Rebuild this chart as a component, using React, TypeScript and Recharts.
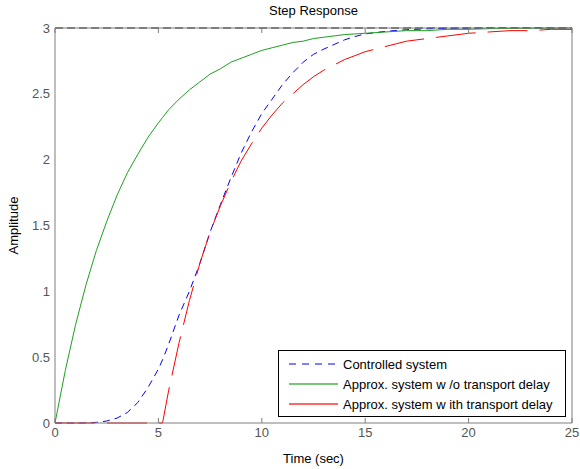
import React from "react";
import {
  LineChart,
  Line,
  XAxis,
  YAxis,
  ReferenceLine,
  Legend,
} from "recharts";

const times = [
  0, 0.5, 1, 1.5, 2, 2.5, 3, 3.5, 4, 4.5, 5, 5.2, 5.5, 6, 6.5, 7, 7.5, 8, 8.5,
  9, 9.5, 10, 10.5, 11, 11.5, 12, 12.5, 13, 13.5, 14, 14.5, 15, 16, 17, 18, 19,
  20, 21, 22, 23, 24, 25,
];

const controlled = [
  0, 0, 0, 0.001, 0.005, 0.015, 0.037, 0.08, 0.155, 0.27, 0.41, 0.48, 0.6,
  0.82, 1.0, 1.21, 1.45, 1.66, 1.86, 2.05, 2.21, 2.35, 2.46, 2.57, 2.66, 2.74,
  2.8, 2.84, 2.875, 2.91, 2.935, 2.955, 2.975, 2.987, 2.994, 2.997, 2.999, 3, 3,
  3, 3, 3,
];

const approxNoDelay = [
  0, 0.4, 0.75, 1.05, 1.31, 1.53, 1.73, 1.9, 2.04, 2.17, 2.28, 2.32, 2.38, 2.46,
  2.53, 2.59, 2.65, 2.69, 2.74, 2.77, 2.8, 2.83, 2.85, 2.87, 2.89, 2.9, 2.92,
  2.93, 2.94, 2.95, 2.955, 2.96, 2.97, 2.98, 2.98, 2.99, 2.99, 2.995, 2.997,
  2.998, 2.999, 3,
];

const approxDelay = [
  0, 0, 0, 0, 0, 0, 0, 0, 0, 0, 0, 0, 0.25, 0.61, 0.93, 1.21, 1.45, 1.65, 1.83,
  1.99, 2.12, 2.24, 2.34, 2.43, 2.5, 2.57, 2.63, 2.68, 2.72, 2.76, 2.79, 2.82,
  2.86, 2.9, 2.92, 2.94, 2.96, 2.97, 2.98, 2.98, 2.99, 2.99,
];

const xTicks = [0, 5, 10, 15, 20, 25];
const yTicks = [0, 0.5, 1, 1.5, 2, 2.5, 3];

const series = [
  { key: "controlled", name: "Controlled system", color: "#0000ff", dash: "7 5", legendDash: "7 6" },
  { key: "noDelay", name: "Approx. system w /o transport delay", color: "#1fa01f", dash: undefined, legendDash: undefined },
  { key: "delay", name: "Approx. system w ith transport delay", color: "#ff0000", dash: "40 12", legendDash: undefined },
];

const data = times.map((t, i) => ({
  t,
  controlled: controlled[i],
  noDelay: approxNoDelay[i],
  delay: approxDelay[i],
}));

const font = '"Liberation Sans", Arial, sans-serif';
const axisColor = "#7f7f7f";
const tickText = { fill: "#555", fontSize: 13, fontFamily: font };
const TICK = 5;

// inward tick mark; (x, y) is where recharts would put the label of a mirrored axis
const tickMark = (side: "top" | "bottom" | "left" | "right") => (p: any) => {
  const { x, y } = p;
  let c = { x1: x, x2: x, y1: y, y2: y };
  if (side === "top") c = { x1: x, x2: x, y1: y - TICK, y2: y };
  if (side === "bottom") c = { x1: x, x2: x, y1: y, y2: y + TICK };
  if (side === "left") c = { x1: x - TICK, x2: x, y1: y, y2: y };
  if (side === "right") c = { x1: x, x2: x + TICK, y1: y, y2: y };
  return <line {...c} stroke={axisColor} strokeWidth={1} />;
};

const LegendBox = () => (
  <div
    style={{
      boxSizing: "border-box",
      width: 288,
      height: 67,
      border: "1px solid #000",
      background: "#fff",
      paddingTop: 3,
      fontFamily: font,
      fontSize: 13,
      color: "#000",
    }}
  >
    {series.map((s) => (
      <div key={s.key} style={{ display: "flex", alignItems: "center", height: 20 }}>
        <svg width={64} height={20} style={{ flex: "none" }}>
          <line
            x1={10}
            x2={59}
            y1={10}
            y2={10}
            stroke={s.color}
            strokeOpacity={s.legendDash ? 1 : 0.6}
            strokeWidth={s.legendDash ? 1 : 2}
            strokeDasharray={s.legendDash}
          />
        </svg>
        <span style={{ whiteSpace: "nowrap" }}>{s.name}</span>
      </div>
    ))}
  </div>
);

export default function App() {
  return (
    <div
      style={{
        position: "absolute",
        left: 0,
        top: 0,
        width: 580,
        height: 469,
        background: "#fff",
        fontFamily: font,
      }}
    >
      <div
        style={{
          position: "absolute",
          left: 55,
          width: 517,
          top: 3,
          textAlign: "center",
          fontSize: 13,
          color: "#000",
        }}
      >
        Step Response
      </div>
      <LineChart
        width={580}
        height={469}
        data={data}
        margin={{ top: 28, right: 8, bottom: 0, left: 0 }}
      >
        <XAxis
          dataKey="t"
          type="number"
          domain={[0, 25]}
          ticks={xTicks}
          height={46}
          stroke={axisColor}
          tickLine={false}
          tickSize={0}
          tickMargin={5}
          tick={tickText}
          label={{
            value: "Time (sec)",
            position: "insideBottom",
            offset: 6,
            style: { fill: "#000", fontSize: 13, fontFamily: font },
          }}
        />
        <YAxis
          type="number"
          domain={[0, 3]}
          ticks={yTicks}
          width={55}
          stroke={axisColor}
          tickLine={false}
          tickSize={0}
          tickMargin={5}
          tick={tickText}
          label={{
            value: "Amplitude",
            angle: -90,
            position: "insideLeft",
            offset: 13,
            style: { fill: "#000", fontSize: 13, fontFamily: font, textAnchor: "middle" },
          }}
        />
        {/* mirrored axes: inward tick marks on all four sides, they take no room */}
        <XAxis
          xAxisId="bottomTicks"
          dataKey="t"
          type="number"
          domain={[0, 25]}
          ticks={xTicks}
          mirror
          height={10}
          axisLine={false}
          tickLine={false}
          tickSize={TICK}
          tickMargin={0}
          tick={tickMark("bottom")}
        />
        <XAxis
          xAxisId="top"
          orientation="top"
          dataKey="t"
          type="number"
          domain={[0, 25]}
          ticks={xTicks}
          mirror
          height={10}
          stroke={axisColor}
          tickLine={false}
          tickSize={TICK}
          tickMargin={0}
          tick={tickMark("top")}
        />
        <YAxis
          yAxisId="leftTicks"
          type="number"
          domain={[0, 3]}
          ticks={yTicks}
          mirror
          width={10}
          axisLine={false}
          tickLine={false}
          tickSize={TICK}
          tickMargin={0}
          tick={tickMark("left")}
        />
        <YAxis
          yAxisId="right"
          orientation="right"
          type="number"
          domain={[0, 3]}
          ticks={yTicks}
          mirror
          width={10}
          stroke={axisColor}
          tickLine={false}
          tickSize={TICK}
          tickMargin={0}
          tick={tickMark("right")}
        />
        <ReferenceLine y={3} stroke="#000" strokeDasharray="8 4" />
        {series.map((s) => (
          <Line
            key={s.key}
            dataKey={s.key}
            name={s.name}
            type="linear"
            stroke={s.color}
            strokeWidth={1}
            strokeDasharray={s.dash}
            dot={false}
            activeDot={false}
            isAnimationActive={false}
          />
        ))}
        <Legend
          layout="vertical"
          align="center"
          verticalAlign="middle"
          content={() => <LegendBox />}
          wrapperStyle={{ left: 278, top: 350, width: 288, height: 67 }}
        />
      </LineChart>
    </div>
  );
}
